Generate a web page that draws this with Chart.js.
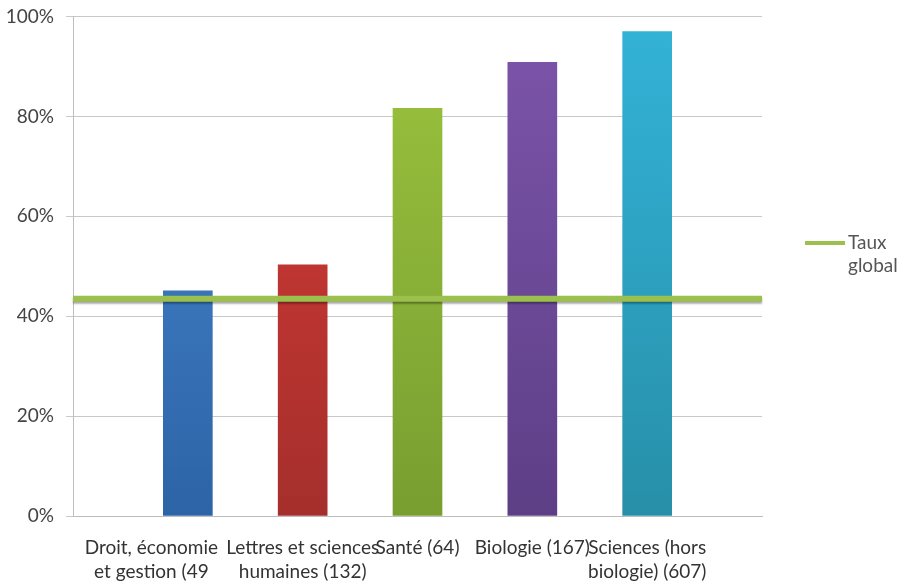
<!DOCTYPE html>
<html>
<head>
<meta charset="utf-8">
<script src="https://cdn.jsdelivr.net/npm/chart.js@4"></script>
<style>
html,body{margin:0;padding:0;background:#fff;overflow:hidden;}
#wrap{position:relative;width:905px;height:584px;overflow:hidden;}
#c{position:absolute;left:0;top:-5px;}
</style>
</head>
<body>
<div id="wrap"><canvas id="c" width="905" height="589"></canvas></div>
<script>
const categories = [
  '',
  ['Droit, économie               ', 'et gestion (49               '],
  ['Lettres et sciences', 'humaines (132)'],
  'Santé (64)',
  'Biologie (167)',
  ['Sciences (hors', 'biologie) (607)'],
  ''
];
const successRate = [null, 45.1, 50.3, 81.6, 90.8, 97.0, null];
const globalRate = [43.5, 43.5, 43.5, 43.5, 43.5, 43.5, 43.5];
const globalLabel = 'Taux global';
const yTicks = [0, 20, 40, 60, 80, 100];

const barTop = ['#4a87d2', '#d83b36', '#9cc43e', '#7d55ab', '#33b3d8'];
const barBottom = ['#2c64a6', '#a52f2c', '#789e30', '#5d3f86', '#278fa8'];

function barColor(ctx) {
  const chart = ctx.chart;
  const area = chart.chartArea;
  const i = ctx.dataIndex - 1;
  if (!area || i < 0 || i >= barTop.length) return '#888';
  const g = chart.ctx.createLinearGradient(0, area.top, 0, area.bottom);
  g.addColorStop(0, barTop[i]);
  g.addColorStop(1, barBottom[i]);
  return g;
}

const shadowPlugin = {
  id: 'lineShadow',
  beforeDatasetDraw(chart, args) {
    if (args.meta.type === 'line') {
      const c = chart.ctx;
      c.save();
      c.shadowColor = 'rgba(0,0,0,0.35)';
      c.shadowBlur = 2;
      c.shadowOffsetY = 2;
    }
  },
  afterDatasetDraw(chart, args) {
    if (args.meta.type === 'line') chart.ctx.restore();
  }
};

const FONT = 'Lato, "Liberation Sans", sans-serif';

const legendPlugin = {
  id: 'sideLegend',
  afterDraw(chart) {
    const c = chart.ctx;
    const ds = chart.data.datasets[0];
    const x = chart.chartArea.right + 43;
    const y = 248;
    c.save();
    c.strokeStyle = ds.borderColor;
    c.lineWidth = 4;
    c.beginPath();
    c.moveTo(x, y);
    c.lineTo(x + 40, y);
    c.stroke();
    c.fillStyle = '#555';
    c.font = '19px ' + FONT;
    c.textBaseline = 'middle';
    const words = ds.label.split(' ');
    c.fillText(words[0], x + 43, y);
    c.fillText(words.slice(1).join(' '), x + 43, y + 23);
    c.restore();
  }
};

new Chart(document.getElementById('c'), {
  data: {
    labels: categories,
    datasets: [
      {
        type: 'line',
        label: globalLabel,
        data: globalRate,
        borderColor: '#9bc04e',
        borderWidth: 6,
        pointRadius: 0,
        order: 0
      },
      {
        type: 'bar',
        label: 'Taux',
        data: successRate,
        backgroundColor: barColor,
        barThickness: 49,
        order: 1
      }
    ]
  },
  plugins: [shadowPlugin, legendPlugin],
  options: {
    responsive: false,
    animation: false,
    layout: { padding: { top: 0, right: 143, left: 0, bottom: 0 } },
    plugins: { legend: { display: false }, tooltip: { enabled: false } },
    scales: {
      x: {
        offset: false,
        afterFit(axis) { axis.height = 68; },
        grid: { display: false, drawTicks: false },
        border: { display: true, color: '#bdbdbd', width: 1 },
        ticks: {
          color: '#333',
          font: { family: FONT, size: 19, lineHeight: 1.26 },
          maxRotation: 0,
          autoSkip: false,
          padding: 20
        }
      },
      y: {
        min: 0,
        max: 100,
        afterFit(axis) { axis.width = 73; },
        afterBuildTicks(axis) { axis.ticks = yTicks.map(v => ({ value: v })); },
        grid: { color: '#c8c8c8', tickLength: 7, drawTicks: true },
        border: { display: true, color: '#bdbdbd' },
        ticks: {
          color: '#444',
          padding: 12,
          font: { family: FONT, size: 19, lineHeight: 1.0 },
          callback: v => v + '%'
        }
      }
    }
  }
});
</script>
</body>
</html>
